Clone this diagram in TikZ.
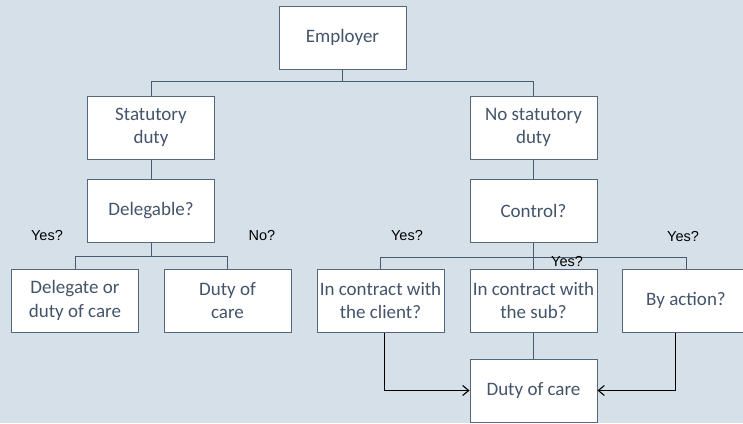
\documentclass[tikz,border=0pt]{standalone}
\usepackage{fontspec}
\setmainfont{Carlito}
\newfontfamily\labelfont{Liberation Sans}
\usetikzlibrary{arrows.meta}
\definecolor{bgcol}{HTML}{D6E0E8}
\definecolor{boxline}{HTML}{56677C}
\definecolor{boxtext}{HTML}{44546A}
\definecolor{treeline}{HTML}{4A5A6E}
\tikzset{
  box/.style={draw=boxline, line width=1pt, fill=white, minimum width=127pt,
    minimum height=63pt, inner sep=1pt, align=center, text=boxtext,
    font=\fontsize{19}{23.5}\selectfont},
  tree/.style={draw=treeline, line width=1pt},
  flow/.style={draw=black, line width=0.9pt, -{Straight Barb[length=6pt,width=10pt,line width=1.1pt]}},
  answer/.style={font=\labelfont\fontsize{14.5}{16}\selectfont, text=black, inner sep=0pt}
}
\begin{document}
\begin{tikzpicture}[x=1pt,y=-1pt]
  \fill[bgcol] (0,0) rectangle (743,423);
  \useasboundingbox (0,0) rectangle (743,423);
  \clip (0,0) rectangle (743,423);

  % boxes
  \node[box] (emp)    at (342.5,37.5)  {Employer};
  \node[box] (stat)   at (151,127.5)   {Statutory\\duty};
  \node[box] (deleg)  at (151,211)     {Delegable?};
  \node[box] (delor)  at (75,300.5)    {Delegate or\\duty of care};
  \node[box] (dutyl)  at (227.5,300.5) {Duty of\\care};
  \node[box] (nostat) at (533.5,127.5) {No statutory\\duty};
  \node[box] (ctrl)   at (533.5,211)   {Control?};
  \node[box] (client) at (380.5,300.5) {In contract with\\the client?};
  \node[box] (sub)    at (533.5,300.5) {In contract with\\the sub?};
  \node[box] (act)    at (686,300.5)   {By action?};
  \node[box] (duty)   at (533.5,390.5) {Duty of care};

  % tree connectors
  \draw[tree] (emp.south) -- ++(0,12) coordinate (ej) -| (stat.north);
  \draw[tree] (ej) -| (nostat.north);
  \draw[tree] (stat) -- (deleg);
  \draw[tree] (nostat) -- (ctrl);
  \draw[tree] (deleg.south) -- ++(0,13) coordinate (dj) -| (delor.north);
  \draw[tree] (dj) -| (dutyl.north);
  \draw[tree] (ctrl.south) -- ++(0,14) coordinate (cj) -| (client.north);
  \draw[tree] (cj) -| (act.north);
  \draw[tree] (ctrl) -- (sub);
  \draw[tree] (sub) -- (duty);

  % arrows into the final box
  \draw[flow] ([xshift=3.5pt]client.south) |- (duty.west);
  \draw[flow] ([xshift=-11pt]act.south) |- (duty.east);

  % answers
  \node[answer] (a1) at (47,236)  {Yes?};
  \node[answer] (a2) at (262,236) {No?};
  \node[answer] (a3) at (407,236) {Yes?};
  \node[answer] (a4) at (567,262) {Yes?};
  \node[answer] (a5) at (683,237) {Yes?};
\end{tikzpicture}
\end{document}
